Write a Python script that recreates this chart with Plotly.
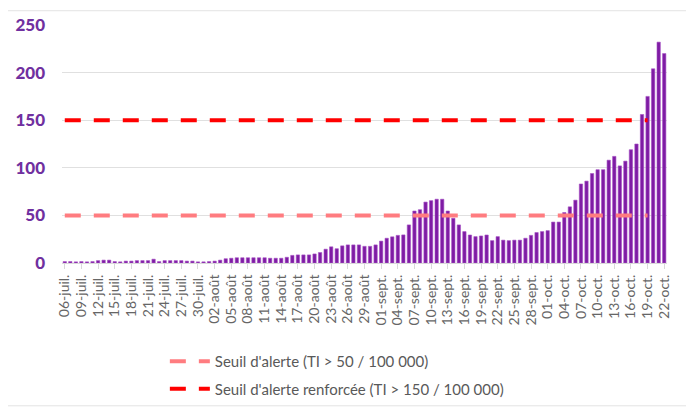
import plotly.graph_objects as go
from datetime import date, timedelta

# ---- data ----
start = date(2020, 7, 6)
n_days = 109
mois = {7: "juil.", 8: "août", 9: "sept.", 10: "oct."}
dates = [start + timedelta(days=i) for i in range(n_days)]
categories = [f"{d.day:02d}-{mois[d.month]}" for d in dates]

taux_incidence = [
    1.5, 1.5, 1.2, 1.5, 1.2, 1.5, 2.5, 3, 3, 1.5,
    1.2, 2, 2, 2.5, 2.5, 2.5, 4, 1.5, 2.5, 2.5,
    2.5, 2.5, 2, 2, 1.2, 1.2, 1.5, 2, 3, 4.5,
    5, 5.5, 5.5, 5.5, 5.5, 5.5, 5.5, 5, 5, 5,
    6, 8, 8.5, 8.5, 8.5, 9.5, 11, 14.5, 17, 15,
    18, 19, 19, 19, 17.5, 17.5, 19, 23, 26, 27.5,
    29, 29.5, 40, 54.6, 56, 64, 65.5, 67, 67, 54.6,
    47, 40, 33, 29.4, 27.7, 28.4, 29.4, 23.5, 27.7, 24,
    23.5, 24, 24, 26, 29, 32, 33, 34, 43, 43,
    53, 59, 66, 83, 86, 94, 98, 98, 108, 112,
    102, 107, 119, 125, 156, 175, 204, 232, 220,
]

seuil_alerte_val = 50
seuil_renforce_val = 150
seuil_fin = "19-oct."  # les seuils s'arrêtent au 19 octobre
seuil_x = categories[: categories.index(seuil_fin) + 1]

tick_labels = categories[::3]
y_ticks = [0, 50, 100, 150, 200, 250]

# ---- figure ----
fig = go.Figure()
fig.add_trace(go.Bar(
    x=categories, y=taux_incidence,
    marker=dict(color="#7E1CA4", line=dict(color="#A64FC4", width=0.6)),
    showlegend=False, hoverinfo="x+y",
))
fig.add_trace(go.Scatter(
    x=seuil_x, y=[seuil_alerte_val] * len(seuil_x), mode="lines",
    line=dict(color="#FF7C80", width=4, dash="16px,13px"),
    name="Seuil d'alerte (TI > 50 / 100 000)", legendgroup="a",
))
fig.add_trace(go.Scatter(
    x=seuil_x, y=[seuil_renforce_val] * len(seuil_x), mode="lines",
    line=dict(color="#FF0000", width=4, dash="16px,13px"),
    name="Seuil d'alerte renforcée (TI > 150 / 100 000)", legendgroup="b",
))

fig.update_layout(
    width=686, height=402,
    margin=dict(l=54, r=27, t=17, b=147, autoexpand=False),
    paper_bgcolor="white", plot_bgcolor="white",
    bargap=0.4,
    font=dict(family="Lato, Open Sans, sans-serif", color="#595959"),
    legend=dict(
        x=0.17, y=-0.345, xanchor="left", yanchor="top",
        orientation="v", font=dict(size=15, color="#595959"),
        tracegroupgap=5, itemwidth=40, bgcolor="rgba(0,0,0,0)",
    ),
    shapes=[dict(
        type="rect", xref="paper", yref="paper",
        x0=-0.094, x1=1.035, y0=-0.6, y1=1.06,
        line=dict(color="#E3E3E3", width=1), layer="below",
    )],
)
fig.update_xaxes(
    type="category", automargin=False,
    tickmode="array", tickvals=tick_labels, ticktext=tick_labels,
    tickangle=-90, tickfont=dict(size=14, color="#666666"),
    showgrid=False, showline=True, linecolor="#D9D9D9",
    ticks="outside", ticklen=5, tickcolor="#D9D9D9",
    range=[-0.5, n_days - 0.5],
)
fig.update_yaxes(
    range=[0, 250], tickvals=y_ticks, automargin=False,
    tickfont=dict(size=17, color="#7030A0", family="Lato Black, Lato, sans-serif"),
    showgrid=True, gridcolor="#E0E0E0", gridwidth=1,
    zeroline=False, showline=False, ticks="", ticklabelstandoff=16,
)

fig.write_html("out.html")
